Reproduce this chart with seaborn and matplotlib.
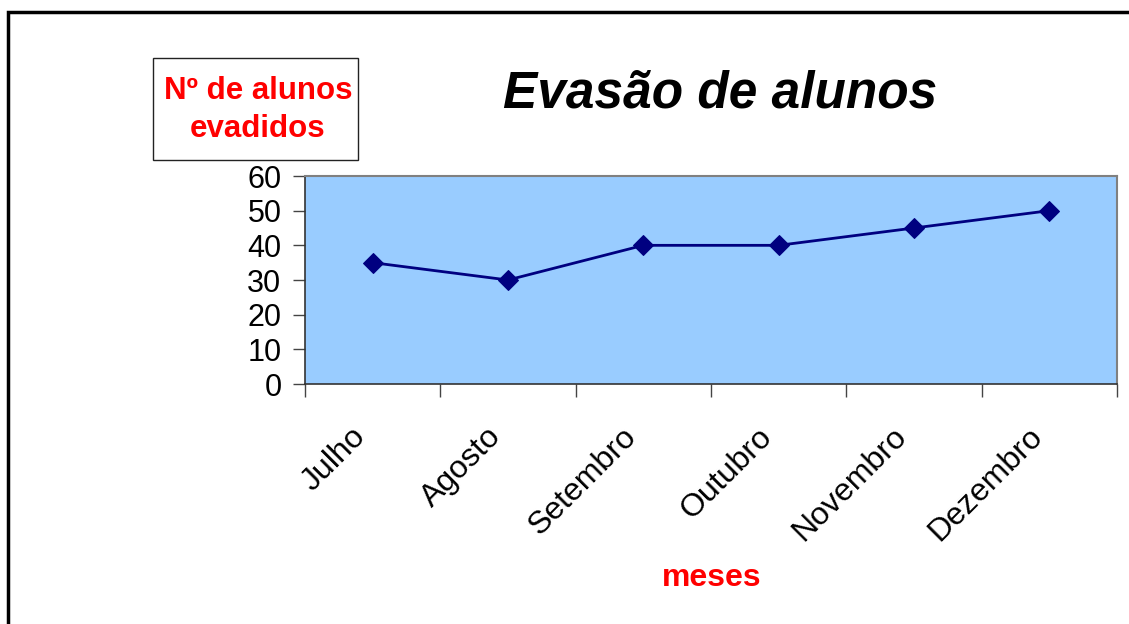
import matplotlib
matplotlib.use("Agg")
import matplotlib.pyplot as plt
import seaborn as sns
import pandas as pd
from matplotlib.patches import Rectangle
from matplotlib.transforms import ScaledTranslation

# Chart data
meses = ["Julho", "Agosto", "Setembro", "Outubro", "Novembro", "Dezembro"]
evadidos = [35, 30, 40, 40, 45, 50]
y_ticks = [0, 10, 20, 30, 40, 50, 60]

df = pd.DataFrame({"mes": meses, "evadidos": evadidos})
df["pos"] = range(len(meses))

sns.set_style("white")
plt.rcParams["font.family"] = ["Liberation Sans", "DejaVu Sans"]
plt.rcParams["text.color"] = "black"
plt.rcParams["xtick.color"] = "black"
plt.rcParams["ytick.color"] = "black"

W, H = 1129, 624
fig = plt.figure(figsize=(W / 100, H / 100), dpi=100)
ax = fig.add_axes([305 / W, 1 - 384 / H, (1117 - 305) / W, (384 - 176) / H])

sns.lineplot(data=df, x="pos", y="evadidos", ax=ax, color="#000080", lw=2,
             marker="D", markersize=10, markeredgecolor="#000080")

ax.set_facecolor("#99CCFF")
ax.set_xlim(-0.5, len(meses) - 0.5)
ax.set_ylim(0, 60)
ax.set_yticks(y_ticks)
ax.set_yticklabels([str(t) for t in y_ticks], fontsize=22)

# category boundaries get the tick marks, labels sit at the centres
ax.set_xticks([i - 0.5 for i in range(len(meses) + 1)])
ax.set_xticklabels([])
ax.set_xticks(range(len(meses)), minor=True)
ax.set_xticklabels(meses, minor=True, rotation=45, ha="right",
                   rotation_mode="anchor", fontsize=23)
ax.tick_params(axis="x", which="major", bottom=True, direction="out", length=9,
               width=1, color="#444444")
ax.tick_params(axis="x", which="minor", bottom=True, length=0, pad=27)
ax.tick_params(axis="y", left=True, direction="out", length=9, width=1,
               color="#444444", pad=8)
for lab in ax.get_xticklabels(minor=True):
    lab.set_transform(lab.get_transform() + ScaledTranslation(-0.22, 0, fig.dpi_scale_trans))
ax.set_xlabel("")
ax.set_ylabel("")

for side in ["top", "right"]:
    ax.spines[side].set_color("#808080")
    ax.spines[side].set_linewidth(1.5)
for side in ["left", "bottom"]:
    ax.spines[side].set_color("#333333")
    ax.spines[side].set_linewidth(1.2)

# title and axis names
fig.text(720 / W, 1 - 94 / H, "Evasão de alunos", fontsize=37, fontweight="bold",
         fontstyle="italic", ha="center", va="center")
fig.text(712 / W, 1 - 578 / H, "meses", fontsize=23, fontweight="bold",
         color="red", ha="center", va="center")
fig.patches.append(Rectangle((153 / W, 1 - 160 / H), (358 - 153) / W, (160 - 58) / H,
                             transform=fig.transFigure, fill=False,
                             edgecolor="#222222", lw=1))
fig.text(258 / W, 1 - 110 / H, "Nº de alunos\nevadidos", fontsize=22.5, fontweight="bold",
         color="red", ha="center", va="center", linespacing=1.38)

# outer chart frame (runs off the right and bottom edges)
fig.patches.append(Rectangle((8 / W, -0.1), 1.2, 1 - 12 / H + 0.1,
                             transform=fig.transFigure, fill=False,
                             edgecolor="black", lw=2.5))

fig.savefig("out.png", dpi=100)
